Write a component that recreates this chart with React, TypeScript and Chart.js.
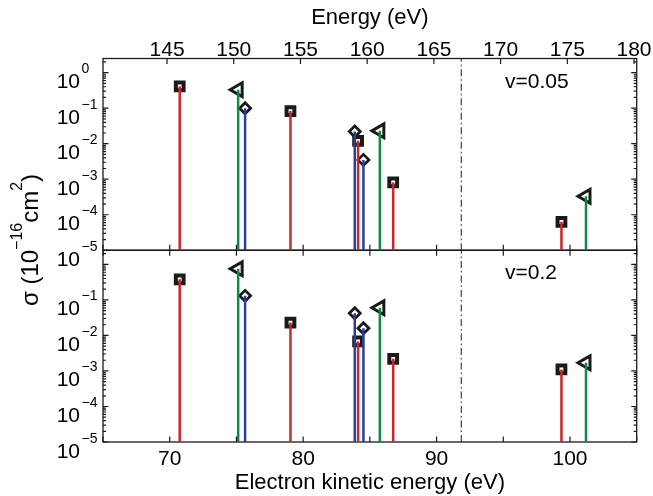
import React, { useEffect, useRef } from 'react';
import { Chart, registerables } from 'chart.js';

Chart.register(...registerables);

const FONT = "'Liberation Sans', Arial, Helvetica, sans-serif";

// Electron kinetic energy (eV) of each line, grouped by marker/colour
const redKE = [70.75, 79.05, 84.12, 86.75, 99.36];
const greenKE = [75.13, 85.75, 101.2];
const blueKE = [75.65, 83.87, 84.52];

// Cross sections sigma (1e-16 cm^2), panel v=0.05
const redV005 = [0.41, 0.083, 0.012, 0.00081, 6.3e-5];
const greenV005 = [0.33, 0.023, 3.3e-4];
const blueV005 = [0.1, 0.022, 0.0035];

// Cross sections sigma (1e-16 cm^2), panel v=0.2
const redV02 = [0.38, 0.023, 0.0068, 0.0022, 0.0011];
const greenV02 = [0.75, 0.06, 0.0017];
const blueV02 = [0.13, 0.042, 0.016];

const thresholdKE = 91.85;
const energyOffset = 75.2; // Energy = kinetic energy + offset
const keMin = 65;
const keMax = 105;
const yMin = 1e-5;
const yMax = 2.5;

const keTicks = [65, 70, 75, 80, 85, 90, 95, 100, 105];
const keLabels = [70, 80, 90, 100];
const energyTicks = [145, 150, 155, 160, 165, 170, 175, 180];
const decadeExps = [-5, -4, -3, -2, -1, 0];
const minorMults = [2, 3, 4, 5, 6, 7, 8, 9];
const topLabelExps = [-5, -4, -3, -2, -1, 0];
const bottomLabelExps = [-5, -4, -3, -2, -1];
const panelLabels = ['v=0.05', 'v=0.2'];

const RED = '#cb262d';
const GREEN = '#0f8a45';
const BLUE = '#2d3e98';
const INK = '#1a1a1a';

type P = { x: number; y: number | null };

function stems(xs: number[], ys: number[]): P[] {
  const out: P[] = [];
  xs.forEach((x, i) => {
    out.push({ x, y: yMin }, { x, y: ys[i] }, { x, y: null });
  });
  return out;
}

function marks(xs: number[], ys: number[]): P[] {
  return xs.map((x, i) => ({ x, y: ys[i] }));
}

function panelDatasets(axis: string, red: number[], green: number[], blue: number[]) {
  const stem = (xs: number[], ys: number[], color: string) => ({
    type: 'line' as const,
    xAxisID: 'x',
    yAxisID: axis,
    data: stems(xs, ys),
    borderColor: color,
    borderWidth: 2.5,
    pointRadius: 0,
    spanGaps: false,
    order: 1,
  });
  const mark = (xs: number[], ys: number[], style: string, r: number, bw: number, rot: number) => ({
    type: 'line' as const,
    xAxisID: 'x',
    yAxisID: axis,
    data: marks(xs, ys),
    showLine: false,
    pointStyle: style,
    pointRadius: r,
    pointBorderWidth: bw,
    pointBorderColor: INK,
    pointBackgroundColor: '#ffffff',
    pointRotation: rot,
    order: 3,
  });
  return [
    mark(redKE, red, 'rect', 5.5, 4, 0),
    mark(greenKE, green, 'triangle', 8, 3, -90),
    mark(blueKE, blue, 'rectRot', 5.5, 2.8, 0),
    {
      type: 'line' as const,
      xAxisID: 'x',
      yAxisID: axis,
      data: [
        { x: thresholdKE, y: yMin },
        { x: thresholdKE, y: yMax },
      ],
      borderColor: INK,
      borderWidth: 1,
      borderDash: [7, 3, 1.5, 3],
      pointRadius: 0,
      order: 2,
    },
    stem(redKE, red, RED),
    stem(greenKE, green, GREEN),
    stem(blueKE, blue, BLUE),
  ];
}

const supLabel = (e: number) => (e === 0 ? '0' : '\u2212' + Math.abs(e));

const matlabAxes = {
  id: 'matlabAxes',
  beforeDatasetsDraw(chart: any) {
    const { ctx } = chart;
    const x = chart.scales.x;
    ctx.save();
    ctx.strokeStyle = INK;
    ctx.lineWidth = 1.3;
    ['yTop', 'yBot'].forEach((id) => {
      const s = chart.scales[id];
      ctx.strokeRect(x.left, s.top, x.right - x.left, s.bottom - s.top);
    });
    ctx.restore();
  },
  afterDraw(chart: any) {
    const { ctx } = chart;
    const x = chart.scales.x;
    const xTop = chart.scales.xTop;
    const yTop = chart.scales.yTop;
    const yBot = chart.scales.yBot;
    ctx.save();
    ctx.setLineDash([]);
    ctx.strokeStyle = INK;
    ctx.fillStyle = '#000';
    ctx.lineWidth = 1.2;
    const L = 5.5;
    // x ticks (inward)
    keTicks.forEach((v) => {
      const px = x.getPixelForValue(v);
      ctx.beginPath();
      ctx.moveTo(px, yBot.bottom);
      ctx.lineTo(px, yBot.bottom - L);
      ctx.moveTo(px, yBot.top);
      ctx.lineTo(px, yBot.top + L);
      ctx.moveTo(px, yTop.bottom);
      ctx.lineTo(px, yTop.bottom - L);
      ctx.stroke();
    });
    energyTicks.forEach((v) => {
      const px = xTop.getPixelForValue(v);
      ctx.beginPath();
      ctx.moveTo(px, yTop.top);
      ctx.lineTo(px, yTop.top + L);
      ctx.stroke();
    });
    // y ticks (inward, both sides)
    [yTop, yBot].forEach((s: any) => {
      decadeExps.forEach((e) => {
        [1, ...minorMults].forEach((m) => {
          const v = m * Math.pow(10, e);
          if (v < yMin * 0.999 || v > yMax) return;
          const py = s.getPixelForValue(v);
          const len = m === 1 ? L : 3;
          ctx.beginPath();
          ctx.moveTo(x.left, py);
          ctx.lineTo(x.left + len, py);
          ctx.moveTo(x.right, py);
          ctx.lineTo(x.right - len, py);
          ctx.stroke();
        });
      });
    });
    // y tick labels 10^e
    const labelRight = x.left - 23;
    const drawYLabels = (s: any, exps: number[]) => {
      exps.forEach((e) => {
        const py = s.getPixelForValue(Math.pow(10, e));
        ctx.font = `21px ${FONT}`;
        ctx.textAlign = 'right';
        ctx.textBaseline = 'alphabetic';
        ctx.fillText('10', labelRight, py + 15.5);
        ctx.font = `14px ${FONT}`;
        ctx.textAlign = 'left';
        ctx.fillText(supLabel(e), labelRight + 1.5, py + 0.5);
      });
    };
    drawYLabels(yTop, topLabelExps);
    drawYLabels(yBot, bottomLabelExps);

    // y title: sigma (10^-16 cm^2)
    const parts = [
      { t: '\u03c3 (10', size: 24, rise: 0 },
      { t: '\u221216', size: 16, rise: 16 },
      { t: 'cm', size: 24, rise: 0 },
      { t: '2', size: 16, rise: 16 },
      { t: ')', size: 24, rise: 0 },
    ];
    let total = 0;
    parts.forEach((p) => {
      ctx.font = `${p.size}px ${FONT}`;
      total += ctx.measureText(p.t).width;
    });
    ctx.translate(38, 240);
    ctx.rotate(-Math.PI / 2);
    let cx = -total / 2;
    ctx.textAlign = 'left';
    ctx.textBaseline = 'alphabetic';
    parts.forEach((p) => {
      ctx.font = `${p.size}px ${FONT}`;
      ctx.fillText(p.t, cx, -p.rise);
      cx += ctx.measureText(p.t).width;
    });
    ctx.setTransform(1, 0, 0, 1, 0, 0);

    // panel labels
    ctx.font = `21px ${FONT}`;
    ctx.textAlign = 'left';
    ctx.textBaseline = 'alphabetic';
    ctx.fillText(panelLabels[0], x.left + 402, yTop.top + 29.5);
    ctx.fillText(panelLabels[1], x.left + 402, yBot.top + 29);
    ctx.restore();
  },
};

export default function App() {
  const ref = useRef<HTMLCanvasElement | null>(null);
  useEffect(() => {
    if (!ref.current) return;
    const tickFont = { family: FONT, size: 21 };
    const titleFont = { family: FONT, size: 22 };
    const chart = new Chart(ref.current, {
      type: 'line',
      data: {
        datasets: [
          ...panelDatasets('yTop', redV005, greenV005, blueV005),
          ...panelDatasets('yBot', redV02, greenV02, blueV02),
        ] as any,
      },
      options: {
        animation: false,
        responsive: false,
        devicePixelRatio: 1,
        events: [],
        layout: { padding: { left: 0, right: 16.3, top: 0, bottom: 0 } },
        plugins: { legend: { display: false }, tooltip: { enabled: false } },
        scales: {
          x: {
            type: 'linear',
            position: 'bottom',
            min: keMin,
            max: keMax,
            grid: { display: false, drawTicks: false },
            border: { display: false },
            afterBuildTicks: (s: any) => {
              s.ticks = keTicks.map((v) => ({ value: v }));
            },
            ticks: {
              autoSkip: false,
              maxRotation: 0,
              padding: 5,
              color: '#000',
              font: tickFont,
              callback: (v: any) => (keLabels.includes(Number(v)) ? String(v) : ''),
            },
            title: {
              display: true,
              text: 'Electron kinetic energy (eV)',
              color: '#000',
              font: titleFont,
              padding: { top: 0, bottom: 0 },
            },
            afterFit: (s: any) => {
              s.height = 54;
            },
          },
          xTop: {
            type: 'linear',
            position: 'top',
            min: keMin + energyOffset,
            max: keMax + energyOffset,
            grid: { display: false, drawTicks: false },
            border: { display: false },
            afterBuildTicks: (s: any) => {
              s.ticks = energyTicks.map((v) => ({ value: v }));
            },
            ticks: {
              autoSkip: false,
              maxRotation: 0,
              padding: -4.5,
              color: '#000',
              font: tickFont,
              callback: (v: any) => String(v),
            },
            title: {
              display: true,
              text: 'Energy (eV)',
              color: '#000',
              font: titleFont,
              padding: { top: 5, bottom: 0 },
            },
            afterFit: (s: any) => {
              s.height = 58.5;
            },
          },
          yTop: {
            type: 'logarithmic',
            position: 'left',
            stack: 'panels',
            stackWeight: 1,
            weight: 1,
            min: yMin,
            max: yMax,
            grid: { display: false, drawTicks: false },
            border: { display: false },
            ticks: { display: false },
            afterFit: (s: any) => {
              s.width = 103;
            },
          },
          yBot: {
            type: 'logarithmic',
            position: 'left',
            stack: 'panels',
            stackWeight: 1,
            weight: 0,
            min: yMin,
            max: yMax,
            grid: { display: false, drawTicks: false },
            border: { display: false },
            ticks: { display: false },
            afterFit: (s: any) => {
              s.width = 103;
            },
          },
        },
      } as any,
      plugins: [matlabAxes as any],
    });
    return () => chart.destroy();
  }, []);
  return (
    <canvas
      ref={ref}
      width={653}
      height={496}
      style={{ position: 'absolute', left: 0, top: 0, display: 'block', width: 653, height: 496 }}
    />
  );
}
